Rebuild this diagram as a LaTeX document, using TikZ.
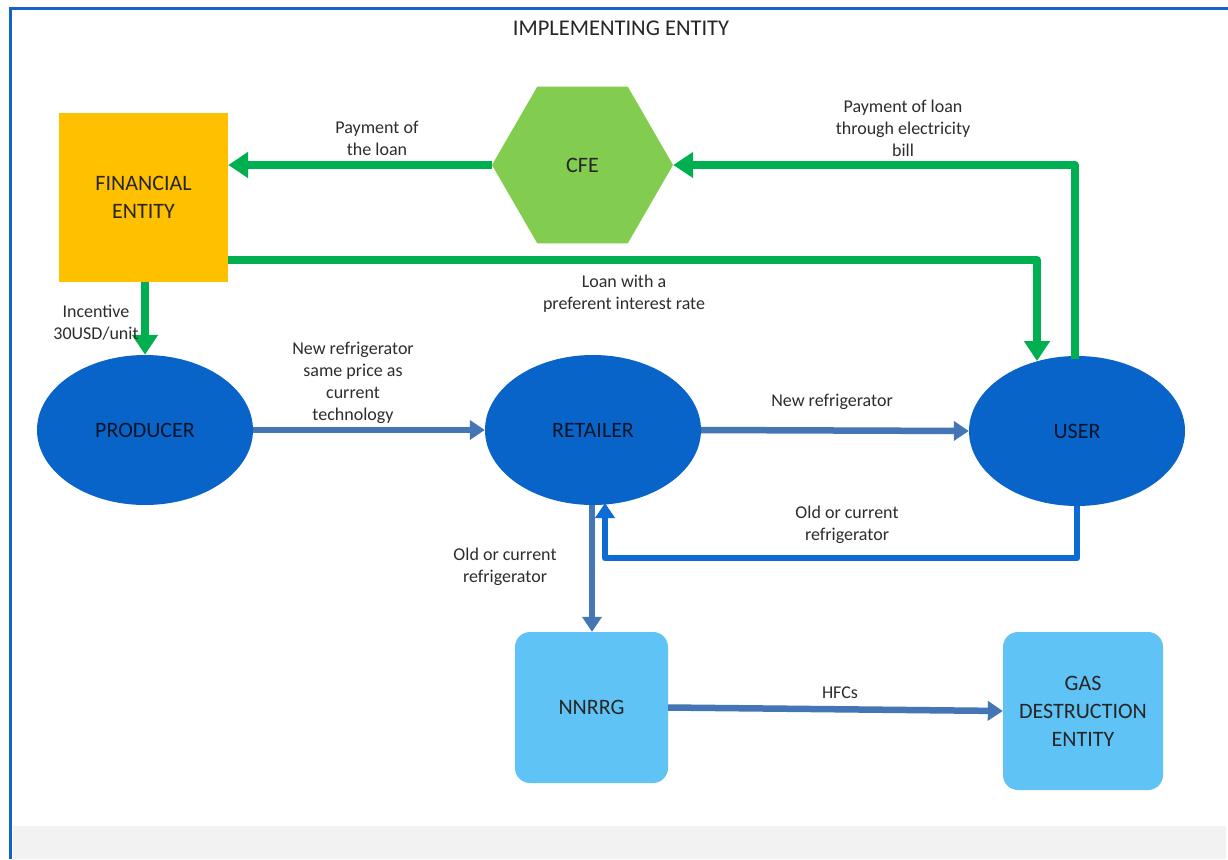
\documentclass[tikz,border=0pt]{standalone}
\usepackage{fontspec}
\setmainfont{Carlito}
\usetikzlibrary{shapes.geometric,arrows.meta,calc}
\definecolor{frameblue}{RGB}{20,100,200}
\definecolor{orangebox}{RGB}{255,192,0}
\definecolor{cfegreen}{RGB}{130,205,80}
\definecolor{arrgreen}{RGB}{0,176,80}
\definecolor{ellblue}{RGB}{8,100,200}
\definecolor{steel}{RGB}{68,118,182}
\definecolor{retblue}{RGB}{12,108,212}
\definecolor{lightbox}{RGB}{95,195,245}
\definecolor{labgray}{RGB}{45,45,45}
\definecolor{bandgray}{RGB}{242,242,242}
\begin{document}
\begin{tikzpicture}[x=1pt,y=-1pt,
  nodetext/.style={font=\fontsize{22}{28}\selectfont, text=black!85, align=center},
  lab/.style={font=\fontsize{18}{22}\selectfont, text=labgray, align=center},
  ell/.style={ellipse, fill=ellblue, minimum width=216pt, minimum height=150pt, inner sep=0pt, nodetext, text=black!80!ellblue},
  rbox/.style={rounded corners=15pt, fill=lightbox, inner sep=0pt, nodetext},
  garrow/.style={draw=arrgreen, line width=7.5pt, -{Triangle[width=25pt,length=20pt]}},
  barrow/.style={draw=steel, line width=6.5pt, -{Triangle[width=19pt,length=15pt]}},
  rarrow/.style={draw=retblue, line width=6.5pt, line join=round, -{Triangle[width=19pt,length=15pt]}}
]
\useasboundingbox (0,0) rectangle (1228,859);
\fill[white] (0,0) rectangle (1228,859);
\fill[bandgray] (13,826) rectangle (1226,859);
\draw[frameblue, line width=3pt] (10,859) -- (10,8.5) -- (1228,8.5);

\node[nodetext, font=\fontsize{22.5}{26}\selectfont] (title) at (621,28) {IMPLEMENTING ENTITY};

\node[rectangle, fill=orangebox, minimum width=169pt, minimum height=169pt, inner sep=0pt, nodetext] (fin) at (143.5,197.5) {FINANCIAL\\ENTITY};
\node[regular polygon, regular polygon sides=6, fill=cfegreen, minimum size=181pt, inner sep=0pt, nodetext] (cfe) at (582.5,165) {CFE};

\node[ell] (prod) at (145,430) {PRODUCER};
\node[ell] (ret) at (593,430) {RETAILER};
\node[ell] (user) at (1077,431) {USER};

\node[rbox, minimum width=153pt, minimum height=151pt] (nn) at (591.5,707.5) {NNRRG};
\node[rbox, minimum width=160pt, minimum height=158pt] (gas) at (1083,711) {GAS\\DESTRUCTION\\ENTITY};

\coordinate (f1) at (228,260);
\coordinate (u1) at (1037,361);
\coordinate (u2) at (1075,359);
\coordinate (r1) at (605,503);
\coordinate (r2) at (592,505);
\coordinate (fa) at (145,282);

% green connectors
\draw[garrow] (cfe.west) -- (fin.east |- cfe.west);
\draw[garrow, line join=round] (u2) -- (u2 |- cfe.east) -- (cfe.east);
\draw[garrow, line join=round] (f1) -| (u1);
\draw[garrow] (fa) -- (prod.north);

% blue connectors
\draw[barrow] (prod.east) -- (ret.west);
\draw[barrow] (ret.east) -- (user.west);
\draw[rarrow] (user.south) -- ($(user.south)+(0,52)$) -| (r1);
\draw[barrow] (r2) -- (r2 |- nn.north);
\draw[barrow] (nn.east) -- (gas.west);

% labels
\node[lab] (l1) at (377,138) {Payment of\\the loan};
\node[lab] (l2) at (903,128) {Payment of loan\\through electricity\\bill};
\node[lab] (l3) at (624,294) {Loan with a\\preferent interest rate};
\node[lab] (l4) at (96,323) {Incentive\\30USD/unit};
\node[lab] (l5) at (353,383) {New refrigerator\\same price as\\current\\technology};
\node[lab] (l6) at (832,402) {New refrigerator};
\node[lab] (l7) at (847,525) {Old or current\\refrigerator};
\node[lab] (l8) at (505,567) {Old or current\\refrigerator};
\node[lab] (l9) at (840,693) {HFCs};
\end{tikzpicture}
\end{document}
